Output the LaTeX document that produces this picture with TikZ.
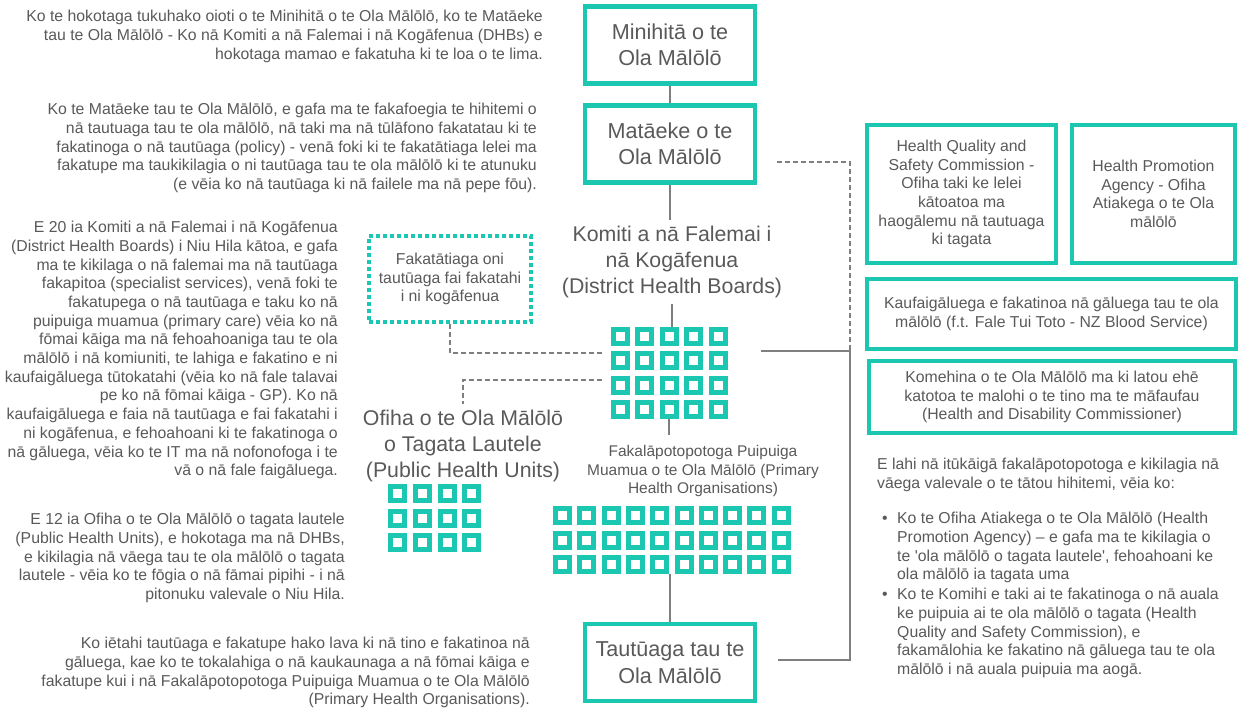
\documentclass[tikz,border=0pt]{standalone}
\usepackage{fontspec}
\setmainfont{Liberation Sans}
\definecolor{orgteal}{HTML}{1CC7B1}
\definecolor{orggrey}{HTML}{7F7F7F}
\definecolor{orgtext}{HTML}{595959}
\tikzset{
  box/.style={draw=orgteal,line width=4.5pt,align=center,text=orgtext,font=\fontsize{21.6}{26.5}\selectfont,minimum width=170pt,minimum height=77pt},
  sidebox/.style={draw=orgteal,line width=4pt,align=center,text=orgtext,font=\fontsize{15.8}{18.7}\selectfont,inner sep=0pt},
  heading/.style={align=center,text=orgtext,font=\fontsize{21.3}{26}\selectfont,inner sep=6pt},
  note/.style={text=orgtext,font=\fontsize{15.8}{18.7}\selectfont,inner sep=0pt},
  cell/.style={draw=orgteal,line width=5pt,minimum size=14pt,inner sep=0pt},
  solidlink/.style={draw=orggrey,line width=1.8pt},
  dashlink/.style={draw=orggrey,line width=1.5pt,dash pattern=on 5pt off 3pt},
}
\begin{document}
\begin{tikzpicture}[x=1pt,y=-1pt]
    \useasboundingbox (0,0) rectangle (1240,709);
    \node[box] at (670,45) (mini) {Minihitā o te\\Ola Mālōlō};
    \node[box] at (670,144) (mata) {Matāeke o te\\Ola Mālōlō};
    \node[box] at (670,662.5) (taut) {Tautūaga tau te\\Ola Mālōlō};
    \node[heading] at (672,262) (dhbtitle) {Komiti a nā Falemai i\\nā Kogāfenua\\(District Health Boards)};
    \node[heading] at (463,446) (ofiha) {Ofiha o te Ola Mālōlō\\o Tagata Lautele\\(Public Health Units)};
    \node[note,align=center,inner sep=10pt,font=\fontsize{15.5}{18.5}\selectfont] at (703,471) (photitle) {Fakalāpotopotoga Puipuiga\\Muamua o te Ola Mālōlō (Primary\\Health Organisations)};
    \node[sidebox,draw=orgteal,dash pattern=on 4pt off 3pt,minimum width=162pt,minimum height=86pt] at (450,279) (coop) {Fakatātiaga oni\\tautūaga fai fakatahi\\i ni kogāfenua};
    \node[sidebox,minimum width=189pt,minimum height=138pt] at (961.5,194) (hqsc) {Health Quality and\\Safety Commission -\\Ofiha taki ke lelei\\kātoatoa ma\\haogālemu nā tautuaga\\ki tagata};
    \node[sidebox,minimum width=163pt,minimum height=138pt] at (1153.5,194) (hpa) {Health Promotion\\Agency - Ofiha\\Atiakega o te Ola\\mālōlō};
    \node[sidebox,minimum width=369pt,minimum height=70pt] at (1051.5,314) (blood) {Kaufaigāluega e fakatinoa nā gāluega tau te ola\\mālōlō (f.t. Fale Tui Toto - NZ Blood Service)};
    \node[sidebox,minimum width=366pt,minimum height=72pt] at (1052,397) (hdc) {Komehina o te Ola Mālōlō ma ki latou ehē\\katotoa te malohi o te tino ma te māfaufau\\(Health and Disability Commissioner)};
    \foreach \c in {0,...,4}
        \foreach \r in {0,...,3}
            \node[cell] at ({620.5+24.4*\c},{336.5+24.4*\r}) (d\c\r) {};
    \foreach \c in {0,...,3}
        \foreach \r in {0,...,2}
            \node[cell] at ({397.5+24.8*\c},{493.5+24.5*\r}) (o\c\r) {};
    \foreach \c in {0,...,9}
        \foreach \r in {0,...,2}
            \node[cell] at ({562.5+24.3*\c},{515.5+24.7*\r}) (p\c\r) {};
    \node[note,align=right,anchor=north east] at (543,10) (govtext) {Ko te hokotaga tukuhako oioti o te Minihitā o te Ola Mālōlō, ko te Matāeke\\tau te Ola Mālōlō - Ko nā Komiti a nā Falemai i nā Kogāfenua (DHBs) e\\hokotaga mamao e fakatuha ki te loa o te lima.};
    \node[note,align=right,anchor=north east] at (537,103) (mintext) {Ko te Matāeke tau te Ola Mālōlō, e gafa ma te fakafoegia te hihitemi o\\nā tautuaga tau te ola mālōlō, nā taki ma nā tūlāfono fakatatau ki te\\fakatinoga o nā tautūaga (policy) - venā foki ki te fakatātiaga lelei ma\\fakatupe ma taukikilagia o ni tautūaga tau te ola mālōlō ki te atunuku\\(e vēia ko nā tautūaga ki nā failele ma nā pepe fōu).};
    \node[note,align=right,anchor=north east] at (338,221) (dhbtext) {E 20 ia Komiti a nā Falemai i nā Kogāfenua\\(District Health Boards) i Niu Hila kātoa, e gafa\\ma te kikilaga o nā falemai ma nā tautūaga\\fakapitoa (specialist services), venā foki te\\fakatupega o nā tautūaga e taku ko nā\\puipuiga muamua (primary care) vēia ko nā\\fōmai kāiga ma nā fehoahoaniga tau te ola\\mālōlō i nā komiuniti, te lahiga e fakatino e ni\\kaufaigāluega tūtokatahi (vēia ko nā fale talavai\\pe ko nā fōmai kāiga - GP). Ko nā\\kaufaigāluega e faia nā tautūaga e fai fakatahi i\\ni kogāfenua, e fehoahoani ki te fakatinoga o\\nā gāluega, vēia ko te IT ma nā nofonofoga i te\\vā o nā fale faigāluega.};
    \node[note,align=right,anchor=north east] at (345,513) (phutext) {E 12 ia Ofiha o te Ola Mālōlō o tagata lautele\\(Public Health Units), e hokotaga ma nā DHBs,\\e kikilagia nā vāega tau te ola mālōlō o tagata\\lautele - vēia ko te fōgia o nā fāmai pipihi - i nā\\pitonuku valevale o Niu Hila.};
    \node[note,align=right,anchor=north east] at (530,637) (fundtext) {Ko iētahi tautūaga e fakatupe hako lava ki nā tino e fakatinoa nā\\gāluega, kae ko te tokalahiga o nā kaukaunaga a nā fōmai kāiga e\\fakatupe kui i nā Fakalāpotopotoga Puipuiga Muamua o te Ola Mālōlō\\(Primary Health Organisations).};
    \node[note,align=left,anchor=north west] at (877,458) (agencytext) {E lahi nā itūkāigā fakalāpotopotoga e kikilagia nā\\vāega valevale o te tātou hihitemi, vēia ko:};
    \node[note,align=left,anchor=north west] at (882,512) (hpaitem) {\makebox[15pt][l]{•}Ko te Ofiha Atiakega o te Ola Mālōlō (Health\\\hspace*{15pt}Promotion Agency) – e gafa ma te kikilagia o\\\hspace*{15pt}te \textquotesingle ola mālōlō o tagata lautele\textquotesingle, fehoahoani ke\\\hspace*{15pt}ola mālōlō ia tagata uma};
    \node[note,align=left,anchor=north west] at (882,588) (hqscitem) {\makebox[15pt][l]{•}Ko te Komihi e taki ai te fakatinoga o nā auala\\\hspace*{15pt}ke puipuia ai te ola mālōlō o tagata (Health\\\hspace*{15pt}Quality and Safety Commission), e\\\hspace*{15pt}fakamālohia ke fakatino nā gāluega tau te ola\\\hspace*{15pt}mālōlō i nā auala puipuia ma aogā.};
    \coordinate (mataright) at (777,162);
    \coordinate (hub) at (850,351);
    \coordinate (dhbright) at (761,351);
    \coordinate (tautright) at (778,660);
    \coordinate (dhbleftA) at (602,353);
    \coordinate (dhbleftB) at (602,380);
    \draw[solidlink] (mini.south) -- (mata.north);
    \draw[solidlink] (mata.south) -- (mata.south |- dhbtitle.north);
    \draw[solidlink] (dhbtitle.south) -- (dhbtitle.south |- d20.north);
    \draw[solidlink] (d23.south) -- (d23.south |- photitle.north);
    \draw[solidlink] (taut.north) -- (taut.north |- p42.south);
    \draw[solidlink] (dhbright) -- (hub) -- (hub |- tautright) -- (tautright);
    \draw[dashlink] (mataright) -- (mataright -| hub) -- (hub);
    \draw[dashlink] (coop.south) -- (coop.south |- dhbleftA) -- (dhbleftA);
    \draw[dashlink] (dhbleftB) -- (dhbleftB -| ofiha.north) -- (ofiha.north);
\end{tikzpicture}
\end{document}
